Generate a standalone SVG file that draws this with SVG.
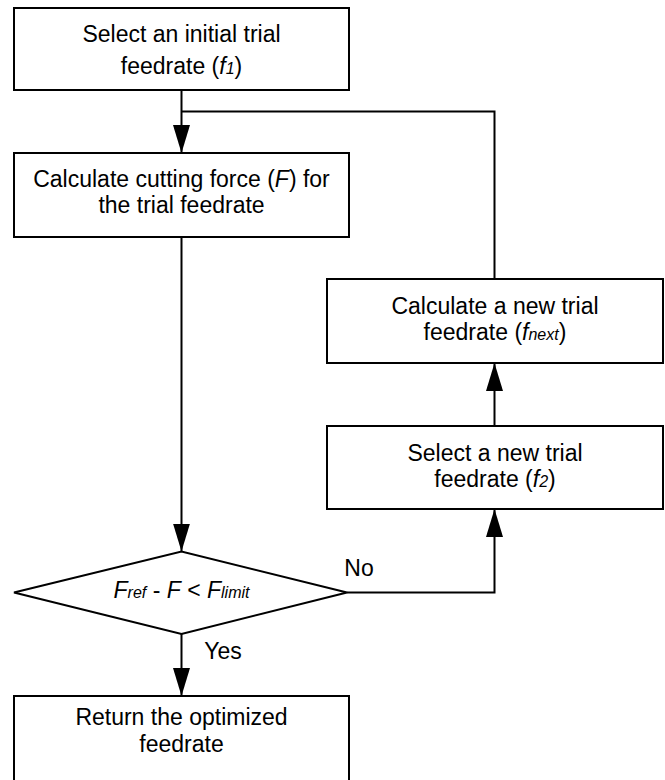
<svg xmlns="http://www.w3.org/2000/svg" width="665" height="780" viewBox="0 0 665 780">
<style>
  .box { fill: #fff; stroke: #000; stroke-width: 2; }
  .t { font-family: "Liberation Sans", Arial, sans-serif; font-size: 23px; fill: #000; text-anchor: middle; }
  .i { font-style: italic; }
  .s { font-size: 16px; font-style: italic; }
  .c { fill: none; stroke: #000; stroke-width: 2; }
</style>
<defs>
  <marker id="ah" markerUnits="userSpaceOnUse" markerWidth="28" markerHeight="18" refX="28" refY="8.5" orient="auto">
    <path d="M0,0 L28,8.5 L0,17 z" fill="#000"/>
  </marker>
</defs>
<rect width="665" height="780" fill="#fff"/>
<g id="connectors">
  <path class="c" d="M181.5,90 V153" marker-end="url(#ah)"/>
  <path class="c" d="M494.5,279 V111.5 H181.5"/>
  <path class="c" d="M181.5,237 V551.5" marker-end="url(#ah)"/>
  <path class="c" d="M347,592.5 H494.5 V509" marker-end="url(#ah)"/>
  <path class="c" d="M494.5,426 V363" marker-end="url(#ah)"/>
  <path class="c" d="M181.5,634 V696" marker-end="url(#ah)"/>
  <text class="t" x="359" y="576">No</text>
  <text class="t" x="223" y="659">Yes</text>
</g>
<g id="n1">
  <rect class="box" x="14" y="8" width="335" height="82"/>
  <text class="t" x="181.5" y="42">Select an initial trial</text>
  <text class="t" x="181.5" y="74">feedrate (<tspan class="i">f</tspan><tspan class="s">1</tspan>)</text>
</g>
<g id="n2">
  <rect class="box" x="14" y="153" width="335" height="84"/>
  <text class="t" x="181.5" y="187">Calculate cutting force (<tspan class="i">F</tspan>) for</text>
  <text class="t" x="181.5" y="213">the trial feedrate</text>
</g>
<g id="n3">
  <rect class="box" x="327" y="279" width="336" height="84"/>
  <text class="t" x="495" y="314">Calculate a new trial</text>
  <text class="t" x="495" y="340">feedrate (<tspan class="i">f</tspan><tspan class="s">next</tspan>)</text>
</g>
<g id="n4">
  <rect class="box" x="327" y="426" width="336" height="83"/>
  <text class="t" x="495" y="460.5">Select a new trial</text>
  <text class="t" x="495" y="486.5">feedrate (<tspan class="i">f</tspan><tspan class="s">2</tspan>)</text>
</g>
<g id="d1">
  <polygon class="box" points="14,592.5 181.5,551.5 347,592.5 181.5,634"/>
  <text class="t" x="181.5" y="598"><tspan class="i">F</tspan><tspan class="s">ref</tspan> - <tspan class="i">F</tspan> &lt; <tspan class="i">F</tspan><tspan class="s">limit</tspan></text>
</g>
<g id="n5">
  <rect class="box" x="14" y="696" width="335" height="95"/>
  <text class="t" x="181.5" y="725">Return the optimized</text>
  <text class="t" x="181.5" y="752">feedrate</text>
</g>
</svg>
